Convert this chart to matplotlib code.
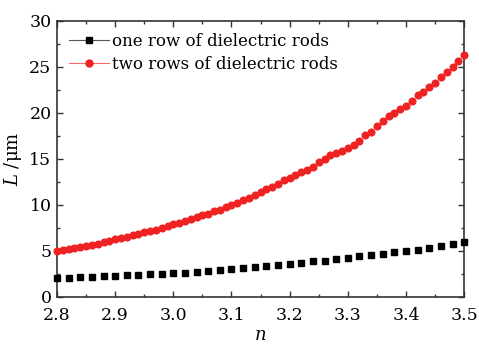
import numpy as np
import matplotlib
matplotlib.use("Agg")
from matplotlib import pyplot as plt
from matplotlib.lines import Line2D
from matplotlib.ticker import MultipleLocator

plt.rcParams['font.family'] = ['DejaVu Serif']
plt.rcParams['mathtext.fontset'] = 'dejavuserif'

# one row of rods, n step 0.02
n_one = [2.80, 2.82, 2.84, 2.86, 2.88, 2.90, 2.92, 2.94, 2.96, 2.98,
         3.00, 3.02, 3.04, 3.06, 3.08, 3.10, 3.12, 3.14, 3.16, 3.18,
         3.20, 3.22, 3.24, 3.26, 3.28, 3.30, 3.32, 3.34, 3.36, 3.38,
         3.40, 3.42, 3.44, 3.46, 3.48, 3.50]
L_one = [2.05, 2.1, 2.15, 2.2, 2.25, 2.3, 2.35, 2.4, 2.45, 2.5,
         2.6, 2.65, 2.75, 2.85, 2.95, 3.05, 3.15, 3.25, 3.35, 3.5,
         3.6, 3.7, 3.85, 3.95, 4.1, 4.25, 4.4, 4.55, 4.7, 4.85,
         5.0, 5.15, 5.3, 5.5, 5.7, 5.95]

# two rows of rods, n step 0.01
n_two = [2.80, 2.81, 2.82, 2.83, 2.84, 2.85, 2.86, 2.87, 2.88, 2.89,
         2.90, 2.91, 2.92, 2.93, 2.94, 2.95, 2.96, 2.97, 2.98, 2.99,
         3.00, 3.01, 3.02, 3.03, 3.04, 3.05, 3.06, 3.07, 3.08, 3.09,
         3.10, 3.11, 3.12, 3.13, 3.14, 3.15, 3.16, 3.17, 3.18, 3.19,
         3.20, 3.21, 3.22, 3.23, 3.24, 3.25, 3.26, 3.27, 3.28, 3.29,
         3.30, 3.31, 3.32, 3.33, 3.34, 3.35, 3.36, 3.37, 3.38, 3.39,
         3.40, 3.41, 3.42, 3.43, 3.44, 3.45, 3.46, 3.47, 3.48, 3.49, 3.50]
L_two = [5.0, 5.1, 5.2, 5.3, 5.4, 5.5, 5.65, 5.8, 5.95, 6.1,
         6.25, 6.4, 6.55, 6.7, 6.85, 7.0, 7.15, 7.3, 7.5, 7.7,
         7.9, 8.05, 8.25, 8.45, 8.65, 8.85, 9.05, 9.3, 9.5, 9.75,
         10.0, 10.25, 10.5, 10.8, 11.1, 11.4, 11.7, 12.0, 12.3, 12.7,
         12.95, 13.3, 13.55, 13.8, 14.1, 14.7, 14.95, 15.4, 15.6, 15.85,
         16.2, 16.5, 16.95, 17.6, 17.9, 18.6, 19.1, 19.7, 20.0, 20.4,
         20.8, 21.3, 22.0, 22.3, 22.8, 23.3, 23.9, 24.4, 25.0, 25.7, 26.3]

labels = ['one row of dielectric rods', 'two rows of dielectric rods']

fig = plt.figure(figsize=(4.79, 3.44), dpi=100)
ax = fig.add_axes([0.119, 0.137, 0.850, 0.802])

ax.plot(n_one, L_one, 's', color='black', markersize=5, clip_on=False, zorder=3)
ax.plot(n_two, L_two, 'o', color='#ee2222', markersize=4.8, clip_on=False, zorder=3)

ax.set_xlim(2.8, 3.5)
ax.set_ylim(0, 30)
ax.xaxis.set_major_locator(MultipleLocator(0.1))
ax.xaxis.set_minor_locator(MultipleLocator(0.05))
ax.yaxis.set_major_locator(MultipleLocator(5))
ax.yaxis.set_minor_locator(MultipleLocator(2.5))
ax.xaxis.set_major_formatter(plt.FormatStrFormatter('%.1f'))
ax.tick_params(which='both', direction='in', top=True, right=True,
               labelsize=12.5, width=1, colors='#333333', labelcolor='black')
ax.tick_params(axis='x', which='both', pad=7)
ax.tick_params(axis='y', which='both', pad=4)
ax.tick_params(which='major', length=4)
ax.tick_params(which='minor', length=2.5)
for s in ax.spines.values():
    s.set_linewidth(1.2)
    s.set_color('#333333')

ax.set_xlabel('$n$', fontsize=13, labelpad=2)
ax.set_ylabel('$L$ /μm', fontsize=13, labelpad=4)

handles = [Line2D([], [], color='#555555', lw=0.8, marker='s', markersize=5,
                  markerfacecolor='black', markeredgecolor='black'),
           Line2D([], [], color='#ff6666', lw=0.8, marker='o', markersize=5,
                  markerfacecolor='#ee2222', markeredgecolor='#ee2222')]
ax.legend(handles, labels, loc='upper left', frameon=False, fontsize=12,
          handlelength=2.4, handletextpad=0.2, labelspacing=0.4,
          borderaxespad=0.3, bbox_to_anchor=(0.0, 1.0))

fig.savefig('out.png', dpi=100)
